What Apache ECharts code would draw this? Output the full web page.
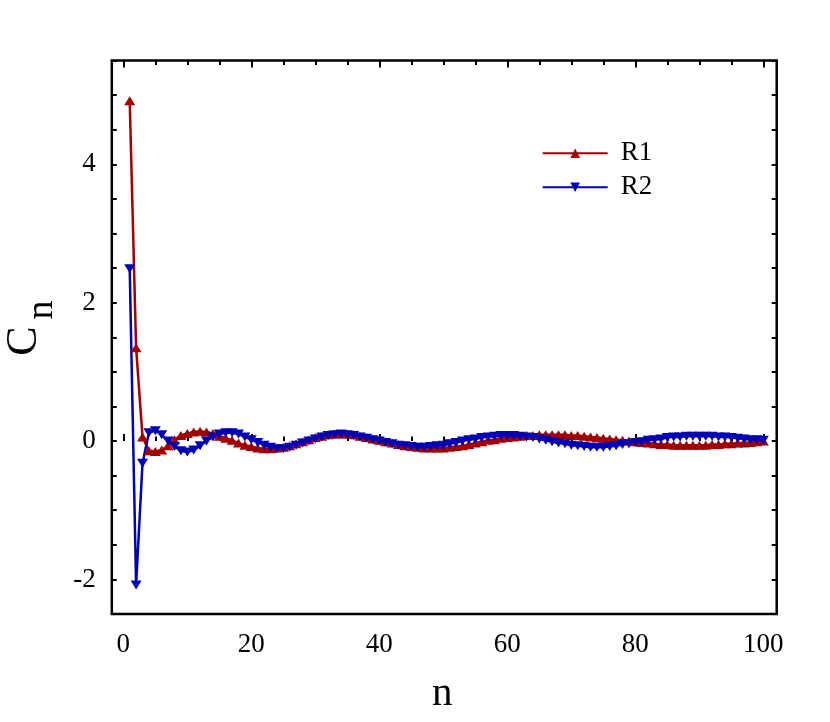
<!DOCTYPE html>
<html>
<head>
<meta charset="utf-8">
<script src="https://cdn.jsdelivr.net/npm/echarts@6/dist/echarts.min.js"></script>
<style>html,body{margin:0;padding:0;background:#fff}#c{width:830px;height:722px}</style>
</head>
<body>
<div id="c"></div>
<script>
// n = 1..100
const nValues = Array.from({length: 100}, (_, i) => i + 1);
const xTickLabels = [0, 20, 40, 60, 80, 100];
const yTickLabels = [-2, 0, 2, 4];
const R1 = [4.92,1.35,0.06,-0.14,-0.15,-0.13,-0.07,0.02,0.08,0.11,
0.13,0.14,0.13,0.11,0.07,0.04,0.01,-0.03,-0.06,-0.08,
-0.10,-0.11,-0.11,-0.10,-0.09,-0.07,-0.04,-0.01,0.02,0.05,
0.07,0.09,0.10,0.10,0.10,0.09,0.07,0.05,0.03,0.01,
-0.01,-0.03,-0.05,-0.07,-0.08,-0.09,-0.10,-0.10,-0.10,-0.10,
-0.09,-0.08,-0.07,-0.05,-0.03,-0.01,0.01,0.02,0.04,0.05,
0.06,0.07,0.08,0.08,0.09,0.09,0.09,0.09,0.09,0.08,
0.08,0.07,0.06,0.05,0.04,0.03,0.02,0.01,0.00,-0.01,
-0.02,-0.03,-0.04,-0.05,-0.05,-0.06,-0.06,-0.06,-0.06,-0.06,
-0.06,-0.05,-0.05,-0.04,-0.04,-0.03,-0.03,-0.02,-0.01,0.00];
const R2 = [2.49,-2.08,-0.32,0.12,0.15,0.09,0.00,-0.08,-0.14,-0.16,
-0.13,-0.07,0.00,0.06,0.10,0.12,0.12,0.10,0.06,0.02,
-0.02,-0.06,-0.09,-0.11,-0.11,-0.09,-0.06,-0.03,0.00,0.03,
0.06,0.08,0.09,0.10,0.09,0.08,0.06,0.04,0.02,0.00,
-0.02,-0.04,-0.06,-0.07,-0.08,-0.09,-0.09,-0.08,-0.07,-0.06,
-0.04,-0.02,0.00,0.02,0.03,0.05,0.06,0.07,0.08,0.08,
0.08,0.07,0.06,0.05,0.03,0.01,-0.01,-0.03,-0.04,-0.06,
-0.07,-0.08,-0.09,-0.09,-0.09,-0.08,-0.07,-0.05,-0.04,-0.02,
-0.01,0.01,0.02,0.03,0.05,0.06,0.06,0.07,0.07,0.07,
0.07,0.07,0.06,0.06,0.05,0.04,0.03,0.02,0.02,0.01];

const FONT = "'Liberation Serif','Times New Roman',serif";
const RED = '#a00000', BLUE = '#0000b4';
const frame = {left: 111.8, top: 60.5, width: 664.9, height: 553.5};
const inner = {left: 123.3, top: 60.5, width: 640, height: 553.5};

const chart = echarts.init(document.getElementById('c'), null, {renderer: 'canvas'});
const yCommon = {
  type: 'value', gridIndex: 0, min: -2.5, max: 5.5, interval: 0.5,
  axisLine: {show: false}, splitLine: {show: false},
  axisTick: {show: true, inside: true, length: 5, lineStyle: {color: '#000', width: 2}}
};
const xCommon = {
  type: 'value', gridIndex: 1, min: 0, max: 100, interval: 20,
  axisLine: {show: false}, splitLine: {show: false},
  axisTick: {show: true, inside: true, length: 7, lineStyle: {color: '#000', width: 2}},
  minorTick: {show: true, splitNumber: 4, length: 4.5, lineStyle: {color: '#000', width: 2}},
  minorSplitLine: {show: false}
};
chart.setOption({
  animation: false,
  backgroundColor: '#fff',
  grid: [
    Object.assign({show: true, borderColor: '#000', borderWidth: 2.5, backgroundColor: 'transparent'}, frame),
    Object.assign({show: false}, inner)
  ],
  xAxis: [
    {type: 'value', gridIndex: 0, min: 0, max: 1, show: false},
    Object.assign({}, xCommon, {position: 'bottom',
      axisLabel: {show: true, margin: 17, fontSize: 27, color: '#000', fontFamily: FONT,
        formatter: v => xTickLabels.indexOf(Math.round(v)) >= 0 ? String(Math.round(v)) : ''}}),
    Object.assign({}, xCommon, {position: 'top', axisLabel: {show: false}})
  ],
  yAxis: [
    Object.assign({}, yCommon, {position: 'left',
      axisLabel: {show: true, margin: 16, fontSize: 27, color: '#000', fontFamily: FONT,
        formatter: v => { const r = Math.round(v); return (Math.abs(v - r) < 1e-6 && yTickLabels.indexOf(r) >= 0) ? String(r) : ''; }}}),
    Object.assign({}, yCommon, {position: 'right', axisLabel: {show: false}}),
    {type: 'value', gridIndex: 1, min: -2.5, max: 5.5, show: false}
  ],
  legend: {
    orient: 'vertical', left: 541.7, top: 139.7, padding: 0, itemWidth: 65, itemHeight: 12, itemGap: 7,
    textStyle: {fontSize: 27, color: '#000', fontFamily: FONT, padding: [0, 0, 0, 8]},
    data: ['R1', 'R2']
  },
  series: [
    {name: 'R1', type: 'line', xAxisIndex: 1, yAxisIndex: 2, clip: false,
     data: nValues.map((n, i) => [n, R1[i]]),
     symbol: 'triangle', symbolSize: [11, 9], showAllSymbol: true,
     lineStyle: {color: RED, width: 2.5}, itemStyle: {color: RED}},
    {name: 'R2', type: 'line', xAxisIndex: 1, yAxisIndex: 2, clip: false,
     data: nValues.map((n, i) => [n, R2[i]]),
     symbol: 'triangle', symbolRotate: 180, symbolSize: [11, 9], showAllSymbol: true,
     lineStyle: {color: BLUE, width: 2.5}, itemStyle: {color: BLUE}}
  ],
  graphic: [
    {type: 'text', left: 432, top: 674, style: {text: 'n', fontSize: 41, fontFamily: FONT, fill: '#000'}},
    {type: 'text', x: 24, y: 341, rotation: Math.PI / 2,
     style: {text: 'C', fontSize: 44, fontFamily: FONT, fill: '#000', align: 'center', verticalAlign: 'middle'}},
    {type: 'text', x: 42, y: 310, rotation: Math.PI / 2,
     style: {text: 'n', fontSize: 38, fontFamily: FONT, fill: '#000', align: 'center', verticalAlign: 'middle'}}
  ]
});
</script>
</body>
</html>
